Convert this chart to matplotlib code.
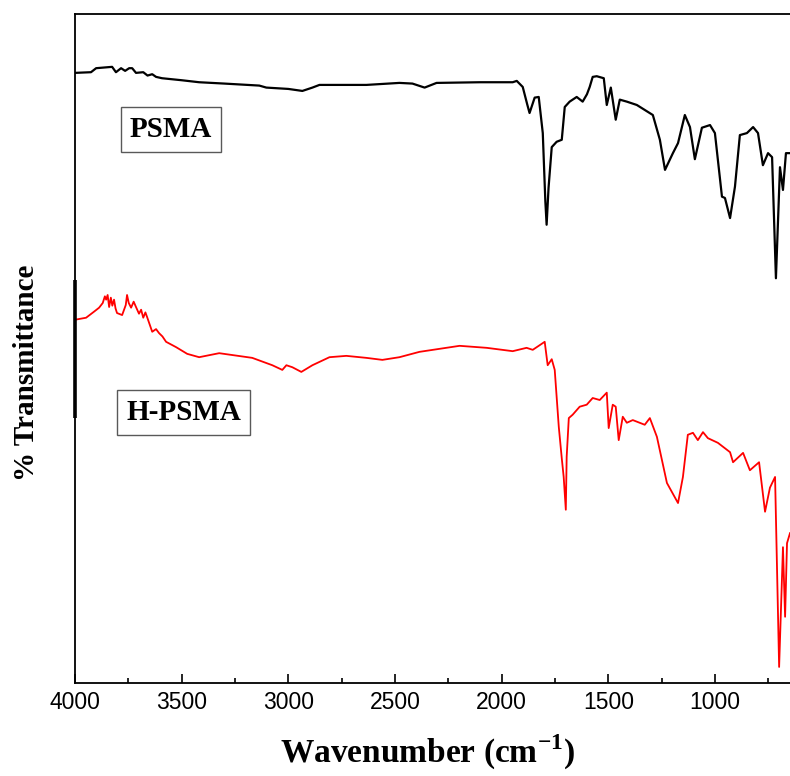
import numpy as np
import matplotlib.pyplot as plt
from matplotlib import transforms

plt.rcParams['mathtext.fontset'] = 'custom'
plt.rcParams['mathtext.rm'] = 'Liberation Serif:bold'
plt.rcParams['mathtext.bf'] = 'Liberation Serif:bold'

# PSMA spectrum (wavenumber in cm-1, relative transmittance)
wn_psma = [4000, 3925, 3901, 3826, 3808, 3784, 3765, 3746, 3732, 3714, 3680, 3660,
           3638, 3620, 3592, 3500, 3418, 3300, 3136, 3103, 3000, 2934, 2887, 2854,
           2750, 2634, 2479, 2418, 2361, 2305, 2100, 1948, 1929, 1901, 1880, 1869,
           1845, 1826, 1807, 1795, 1789, 1780, 1765, 1742, 1718, 1704, 1681, 1648,
           1620, 1600, 1587, 1573, 1554, 1521, 1507, 1488, 1465, 1446, 1413, 1366,
           1291, 1258, 1234, 1197, 1173, 1141, 1117, 1094, 1061, 1023, 1000, 967,
           953, 929, 906, 883, 850, 821, 798, 775, 751, 732, 714, 695, 681, 667, 648]
t_psma = [91.2, 91.3, 91.9, 92.1, 91.3, 91.9, 91.5, 91.9, 91.9, 91.2, 91.3, 90.8,
          91.0, 90.6, 90.4, 90.1, 89.8, 89.6, 89.3, 89.0, 88.8, 88.5, 89.0, 89.4,
          89.4, 89.4, 89.7, 89.6, 89.0, 89.7, 89.8, 89.8, 90.0, 89.1, 86.5, 85.2,
          87.5, 87.6, 82.2, 72.0, 68.5, 74.0, 80.1, 80.9, 81.2, 86.1, 86.9, 87.6,
          86.9, 88.0, 89.1, 90.6, 90.7, 90.4, 86.4, 89.0, 84.2, 87.2, 86.9, 86.4,
          84.9, 81.2, 76.7, 79.2, 80.7, 84.9, 83.1, 78.3, 83.0, 83.4, 82.2, 72.7,
          72.5, 69.5, 74.2, 81.9, 82.2, 83.1, 82.2, 77.4, 79.2, 78.6, 60.5, 77.1,
          73.7, 79.2, 79.2]

# H-PSMA spectrum
wn_hpsma = [4000, 3948, 3911, 3887, 3870, 3860, 3854, 3847, 3840, 3832, 3825, 3817,
            3810, 3803, 3779, 3762, 3756, 3748, 3737, 3725, 3714, 3700, 3690, 3680,
            3670, 3662, 3650, 3638, 3620, 3606, 3590, 3573, 3526, 3474, 3418, 3324,
            3169, 3075, 3028, 3009, 2981, 2939, 2887, 2807, 2728, 2634, 2559, 2479,
            2385, 2197, 2070, 1948, 1883, 1854, 1798, 1784, 1765, 1751, 1732, 1718,
            1709, 1699, 1695, 1685, 1667, 1634, 1601, 1573, 1540, 1507, 1498, 1479,
            1465, 1451, 1432, 1413, 1385, 1329, 1305, 1272, 1225, 1173, 1150, 1127,
            1103, 1080, 1056, 1033, 986, 929, 915, 868, 836, 793, 765, 742, 718, 699,
            681, 671, 662, 648]
t_hpsma = [54.3, 54.6, 55.5, 56.1, 56.8, 57.8, 57.3, 58.0, 56.2, 57.6, 56.4, 57.3,
           56.0, 55.3, 55.0, 56.5, 58.0, 56.8, 56.1, 57.0, 56.2, 55.2, 55.8, 54.6,
           55.4, 54.7, 53.6, 52.5, 52.9, 52.3, 51.8, 51.0, 50.2, 49.2, 48.7, 49.3,
           48.6, 47.5, 46.8, 47.5, 47.2, 46.5, 47.5, 48.7, 48.9, 48.6, 48.3, 48.7,
           49.5, 50.4, 50.1, 49.6, 50.1, 49.8, 51.0, 47.5, 48.4, 46.8, 38.3, 33.6,
           30.8, 25.9, 33.8, 39.6, 40.1, 41.3, 41.6, 42.6, 42.3, 43.4, 38.1, 41.6,
           41.3, 36.3, 39.8, 38.9, 39.3, 38.6, 39.6, 36.8, 29.9, 26.9, 30.8, 37.1,
           37.4, 36.3, 37.5, 36.6, 35.9, 34.5, 33.0, 34.4, 31.8, 33.0, 25.6, 29.2,
           30.8, 2.4, 20.3, 9.9, 20.9, 22.4]

fig = plt.figure(figsize=(7.9, 7.76), dpi=100)
ax = fig.add_axes([75 / 790, 1 - 683 / 776, 1 - 75 / 790, 669 / 776])

ax.plot(wn_psma, t_psma, color='black', lw=1.6)
ax.plot(wn_hpsma, t_hpsma, color='red', lw=1.3)

ax.set_xticks(np.arange(4000, 999, -500))
ax.set_xticks(np.arange(3750, 699, -500), minor=True)
ax.set_xlim(4000, 648)
ax.set_ylim(0, 100)

ax.spines['right'].set_visible(False)
for s in ['left', 'top', 'bottom']:
    ax.spines[s].set_linewidth(1.3)

# thick bar on the left axis
trans = transforms.blended_transform_factory(ax.transAxes, ax.transData)
ax.plot([0, 0], [39.6, 60.2], color='black', lw=2.6, transform=trans,
        clip_on=False, solid_capstyle='butt')

ax.tick_params(axis='x', which='major', direction='in', length=6.5, width=1.2,
               labelsize=16.5, pad=6)
ax.tick_params(axis='x', which='minor', direction='in', length=3.6, width=1.2)
ax.tick_params(axis='y', which='both', left=False, labelleft=False)
for lab in ax.get_xticklabels():
    lab.set_family('Liberation Sans')

box = dict(boxstyle='square,pad=0.3', fc='white', ec='0.35', lw=1.0)
ax.text(0.134, 0.827, 'PSMA', transform=ax.transAxes, ha='center', va='center',
        fontsize=21, fontweight='bold', family='Liberation Serif', bbox=box)
ax.text(0.152, 0.404, 'H-PSMA', transform=ax.transAxes, ha='center', va='center',
        fontsize=21, fontweight='bold', family='Liberation Serif', bbox=box)

fig.text(427 / 790, 1 - 752 / 776, r'Wavenumber (cm$^{\mathbf{-1}}$)', ha='center',
         va='center', fontsize=24, fontweight='bold', family='Liberation Serif')
fig.text(27 / 790, 1 - 373 / 776, '% Transmittance', ha='center', va='center',
         rotation=90, fontsize=21, fontweight='bold', family='Liberation Serif')

fig.savefig('out.png', dpi=100)
